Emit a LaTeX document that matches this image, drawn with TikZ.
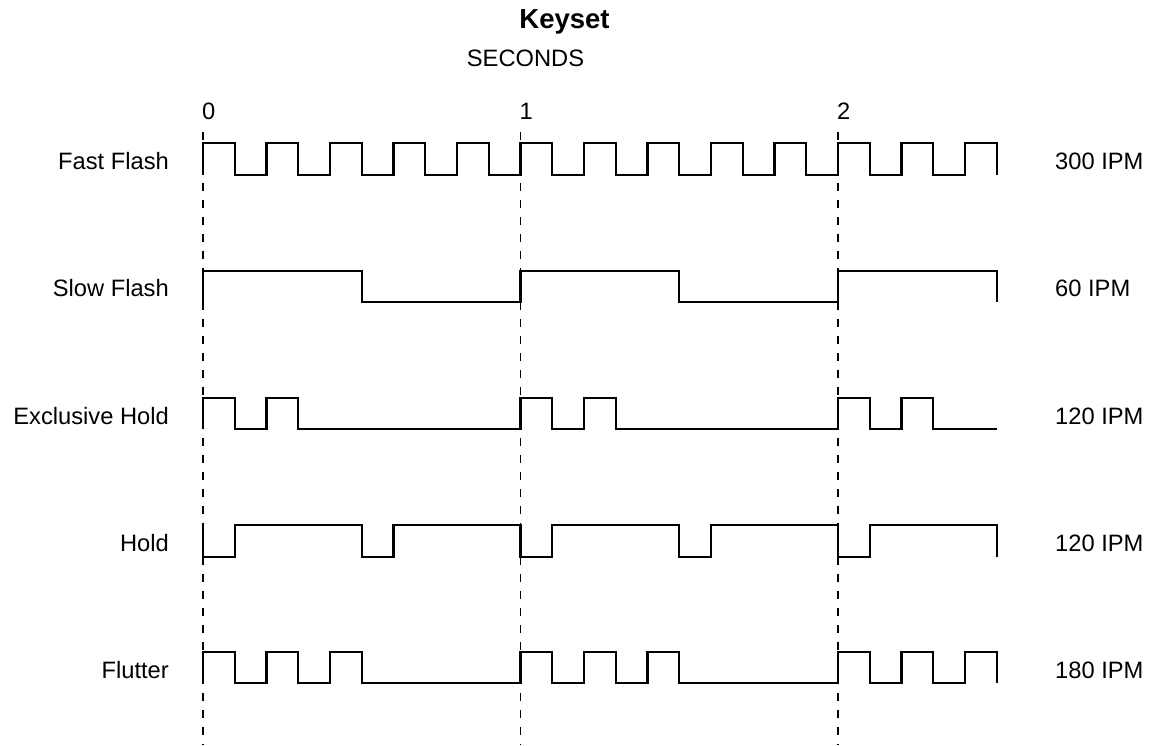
\documentclass[tikz,border=0pt]{standalone}
\usepackage{fontspec}
\setmainfont{Liberation Sans}
\begin{document}
\begin{tikzpicture}[x=1pt,y=-1pt,
  wave/.style={line width=2.4pt,line join=miter},
  grid/.style={line width=1.2pt,dash pattern=on 8pt off 9pt},
  lbl/.style={inner sep=0pt,font=\fontsize{23.7}{28}\selectfont},
  rowlbl/.style={lbl,anchor=base east},
  ratelbl/.style={lbl,anchor=base west},
  ticklbl/.style={lbl,anchor=base west}]
\useasboundingbox (0,0) rectangle (1154,745);

% title and axis caption
\node[inner sep=0pt,anchor=base,font=\fontsize{27.5}{32}\selectfont\bfseries] (title) at (564.5,28) {Keyset};
\node[lbl,anchor=base] (unit) at (525.5,66) {SECONDS};

% second markers
\foreach \s/\x in {0/203,1/520.5,2/838}{
  \coordinate (top\s) at (\x,132);
  \coordinate (bot\s) at (\x,745);
  \draw[grid] (top\s) -- (bot\s);
  \node[ticklbl] (tick\s) at (\x-1,119) {\s};
}

% row labels
\node[rowlbl] (nff) at (169,169) {Fast Flash};
\node[rowlbl] (nsf) at (169,296.5) {Slow Flash};
\node[rowlbl] (neh) at (169,424) {Exclusive Hold};
\node[rowlbl] (nh)  at (169,551) {Hold};
\node[rowlbl] (nfl) at (169,678) {Flutter};

\node[ratelbl] (rff) at (1055,169) {300 IPM};
\node[ratelbl] (rsf) at (1055,296.5) {60 IPM};
\node[ratelbl] (reh) at (1055,424) {120 IPM};
\node[ratelbl] (rh)  at (1055,551) {120 IPM};
\node[ratelbl] (rfl) at (1055,678) {180 IPM};

% waveforms, time in seconds along x
\begin{scope}[shift={(203pt,0pt)},x=317.5pt,y=-1pt]
  % Fast Flash: 5 pulses per second
  \draw[wave] (0,175) \foreach \k in {0,...,12}{
      -- ({0.2*\k},175) -- ({0.2*\k},143) -- ({0.2*\k+0.1},143) -- ({0.2*\k+0.1},175)};
  % Slow Flash: 1 pulse per second
  \draw[wave] (0,302) -- (0,271) -- (0.5,271) -- (0.5,302) -- (1,302) -- (1,271)
      -- (1.5,271) -- (1.5,302) -- (2,302) -- (2,271) -- (2.5,271) -- (2.5,302);
  % Exclusive Hold: two short pulses each second
  \draw[wave] (0,429) \foreach \s in {0,1,2}{
      -- (\s,429) -- (\s,398) -- ({\s+0.1},398) -- ({\s+0.1},429)
      -- ({\s+0.2},429) -- ({\s+0.2},398) -- ({\s+0.3},398) -- ({\s+0.3},429)} -- (2.5,429);
  % Hold: two short dips each second
  \draw[wave] (0,525) \foreach \s in {0,1}{
      -- (\s,525) -- (\s,557) -- ({\s+0.1},557) -- ({\s+0.1},525)
      -- ({\s+0.5},525) -- ({\s+0.5},557) -- ({\s+0.6},557) -- ({\s+0.6},525)}
      -- (2,525) -- (2,557) -- (2.1,557) -- (2.1,525) -- (2.5,525) -- (2.5,557);
  % Flutter: three pulses each second
  \draw[wave] (0,683) \foreach \s in {0,1,2}{
      -- (\s,683) -- (\s,652) -- ({\s+0.1},652) -- ({\s+0.1},683)
      -- ({\s+0.2},683) -- ({\s+0.2},652) -- ({\s+0.3},652) -- ({\s+0.3},683)
      -- ({\s+0.4},683) -- ({\s+0.4},652) -- ({\s+0.5},652) -- ({\s+0.5},683)};
\end{scope}
\end{tikzpicture}
\end{document}
